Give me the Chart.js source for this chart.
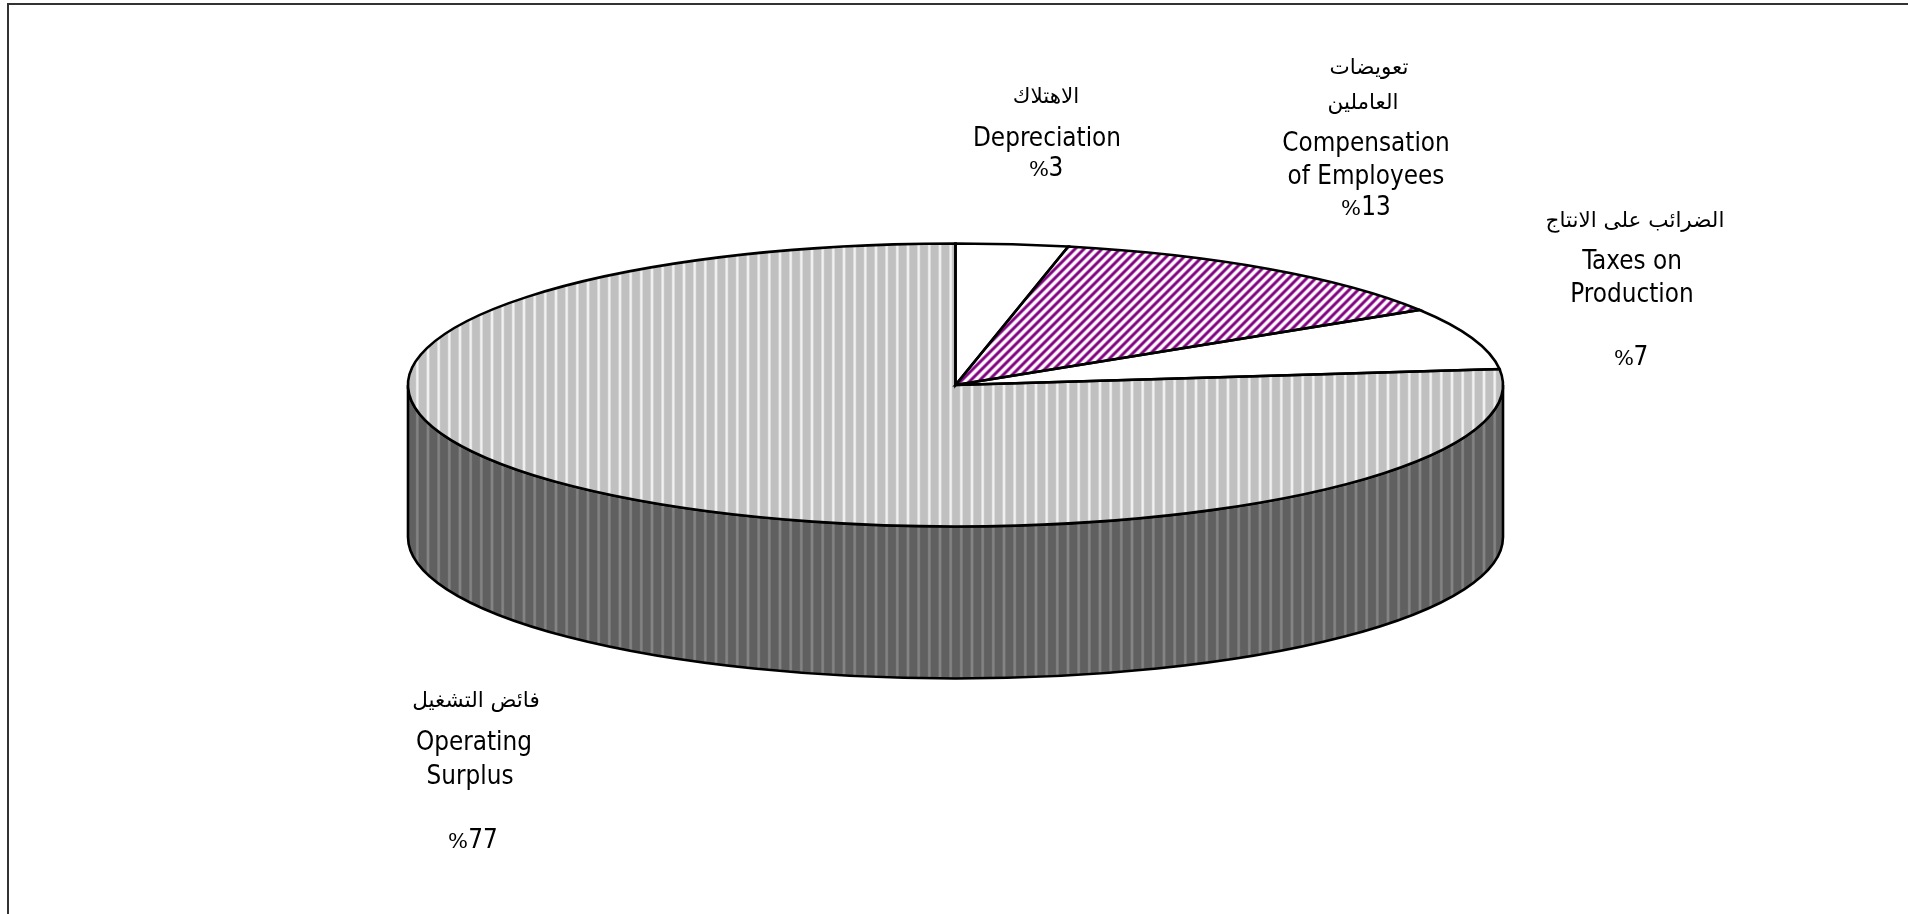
<!DOCTYPE html>
<html>
<head>
<meta charset="utf-8">
<style>
@font-face{font-family:"PctSmall";src:local("DejaVu Sans");unicode-range:U+25;size-adjust:80%}
html,body{margin:0;padding:0;background:#fff}
canvas{display:block}
</style>
<script src="https://cdn.jsdelivr.net/npm/chart.js@4"></script>
</head>
<body>
<canvas id="c" width="1908" height="914"></canvas>
<script>
// ---- data ----
const categories = ["Depreciation", "Compensation of Employees", "Taxes on Production", "Operating Surplus"];
const arabicCategories = ["الاهتلاك", "تعويضات العاملين", "الضرائب على الانتاج", "فائض التشغيل"];
const sliceShares = [3.3, 12.8, 7.1, 76.8];
const shareLabels = ["%3", "%13", "%7", "%77"];

// ---- label layout: [text kind, text, x, y] ----
const LATIN = '"PctSmall","DejaVu Sans Condensed","DejaVu Sans",sans-serif';
const ARABIC = '"DejaVu Sans",sans-serif';
const labelBlocks = [
  [["a", arabicCategories[0], 1046, 97], ["l", "Depreciation", 1047, 139], ["l", shareLabels[0], 1046, 169]],
  [["a", "تعويضات", 1369, 68], ["a", "العاملين", 1363, 103], ["l", "Compensation", 1366, 144], ["l", "of Employees", 1366, 177], ["l", shareLabels[1], 1366, 208]],
  [["a", arabicCategories[2], 1635, 221], ["l", "Taxes on", 1632, 262], ["l", "Production", 1632, 295], ["l", shareLabels[2], 1631, 358]],
  [["a", arabicCategories[3], 476, 701], ["l", "Operating", 474, 743], ["l", "Surplus", 470, 777], ["l", shareLabels[3], 473, 841]]
];

// ---- 3D geometry ----
const RADIUS = 547.5, SQUASH = 141.5 / 547.5, DEPTH = 152;

// ---- hatch patterns ----
function stripeTile(base, light) {
  const cv = document.createElement('canvas'); cv.width = 32; cv.height = 1;
  const g = cv.getContext('2d'), im = g.createImageData(32, 1);
  const centers = [1.33, 12, 22.67];
  for (let x = 0; x < 32; x++) {
    let d = 99;
    centers.forEach(c => { for (const o of [-32, 0, 32]) d = Math.min(d, Math.abs(x + 0.5 - c - o)); });
    const t = Math.max(0, Math.min(1, (2.0 - d) / 1.4));
    for (let i = 0; i < 3; i++) im.data[x * 4 + i] = base + (light - base) * t;
    im.data[x * 4 + 3] = 255;
  }
  g.putImageData(im, 0, 0);
  return cv;
}
function diagonalTile() {
  const n = 9, cv = document.createElement('canvas'); cv.width = n; cv.height = n;
  const g = cv.getContext('2d'), im = g.createImageData(n, n);
  for (let y = 0; y < n; y++) for (let x = 0; x < n; x++) {
    const v = Math.max(0, Math.min(1, 0.44 + 0.62 * Math.cos(2 * Math.PI * (x + y) / n)));
    const p = x * 4 + y * 4 * n;
    im.data[p] = 255 + (128 - 255) * v;
    im.data[p + 1] = 255 * (1 - v);
    im.data[p + 2] = 255 + (128 - 255) * v;
    im.data[p + 3] = 255;
  }
  g.putImageData(im, 0, 0);
  return cv;
}

const host = document.getElementById('c');
const hctx = host.getContext('2d');
const topStripes = hctx.createPattern(stripeTile(192, 240), 'repeat');
const wallStripes = hctx.createPattern(stripeTile(96, 132), 'repeat');
const purpleHatch = hctx.createPattern(diagonalTile(), 'repeat');

const pie3d = {
  id: 'pie3d',
  beforeDraw(chart) {
    const ctx = chart.ctx;
    ctx.save();
    ctx.fillStyle = '#333';
    ctx.fillRect(7, 3, 1901, 2);
    ctx.fillRect(7, 3, 2, 911);
    ctx.restore();
  },
  beforeDatasetsDraw(chart) {
    const ctx = chart.ctx, arcs = chart.getDatasetMeta(0).data;
    const cx = arcs[0].x, cy = arcs[0].y, r = arcs[0].outerRadius, ry = r * SQUASH;
    // side wall: the front half of the rim, taken from the arcs' own angles
    arcs.forEach(a => {
      const s = Math.max(a.startAngle, 0), e = Math.min(a.endAngle, Math.PI);
      if (e <= s) return;
      ctx.beginPath();
      ctx.ellipse(cx, cy, r, ry, 0, s, e);
      ctx.ellipse(cx, cy + DEPTH, r, ry, 0, e, s, true);
      ctx.closePath();
      ctx.fillStyle = wallStripes;
      ctx.fill();
      ctx.lineWidth = 2.6; ctx.strokeStyle = '#000';
      ctx.stroke();
    });
    // squash the circular pie into the top ellipse
    purpleHatch.setTransform(new DOMMatrix().translate(0, cy).scale(1, 1 / SQUASH).translate(0, -cy));
    ctx.save();
    ctx.translate(cx, cy);
    ctx.scale(1, SQUASH);
    ctx.translate(-cx, -cy);
  },
  afterDatasetsDraw(chart) {
    const ctx = chart.ctx, arcs = chart.getDatasetMeta(0).data;
    ctx.restore();
    arcs.forEach(a => {
      ctx.beginPath();
      ctx.moveTo(a.x, a.y);
      ctx.ellipse(a.x, a.y, a.outerRadius, a.outerRadius * SQUASH, 0, a.startAngle, a.endAngle);
      ctx.closePath();
      ctx.lineWidth = 2.6; ctx.lineJoin = 'miter'; ctx.strokeStyle = '#000';
      ctx.stroke();
    });
  },
  afterDraw(chart) {
    const ctx = chart.ctx;
    ctx.save();
    ctx.fillStyle = '#000';
    ctx.textAlign = 'center';
    ctx.textBaseline = 'middle';
    labelBlocks.forEach(block => block.forEach(([kind, text, x, y]) => {
      ctx.font = kind === 'a' ? '21.5px ' + ARABIC : '25.8px ' + LATIN;
      ctx.direction = kind === 'a' ? 'rtl' : 'ltr';
      ctx.fillText(text, x, y);
    }));
    ctx.restore();
  }
};

function build() {
  new Chart(host, {
    type: 'pie',
    data: {
      labels: categories,
      datasets: [{
        data: sliceShares,
        backgroundColor: ['#ffffff', purpleHatch, '#ffffff', topStripes],
        borderWidth: 0,
        clip: false
      }]
    },
    options: {
      responsive: false,
      animation: false,
      radius: RADIUS,
      layout: { padding: { left: 3, right: 0, top: 0, bottom: 144 } },
      plugins: { legend: { display: false }, tooltip: { enabled: false }, title: { display: false } }
    },
    plugins: [pie3d]
  });
}
Promise.race([document.fonts.load('24px PctSmall', '%'), new Promise(r => setTimeout(r, 500))]).then(build, build);
</script>
</body>
</html>
